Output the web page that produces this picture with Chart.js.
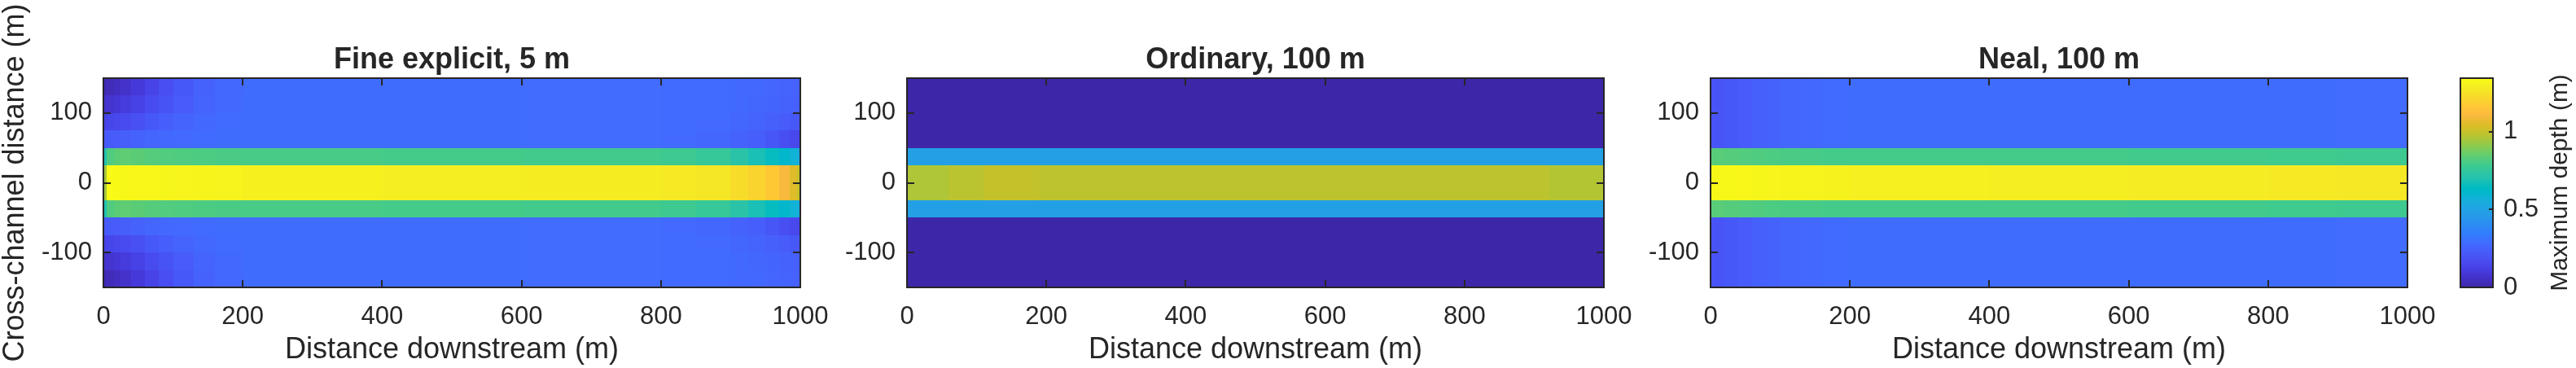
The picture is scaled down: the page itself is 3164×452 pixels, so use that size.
<!DOCTYPE html>
<html>
<head>
<meta charset="utf-8">
<script src="https://cdn.jsdelivr.net/npm/chart.js@4.4.1/dist/chart.umd.min.js"></script>
<style>
  html, body { margin: 0; padding: 0; background: #ffffff; }
  #wrap { position: relative; width: 3164px; height: 452px; overflow: hidden; }
  #wrap canvas { position: absolute; left: 0; top: 0; }
</style>
</head>
<body>
<div id="wrap">
  <canvas id="fine" width="3164" height="452"></canvas>
  <canvas id="ordinary" width="3164" height="452"></canvas>
  <canvas id="neal" width="3164" height="452"></canvas>
  <canvas id="cbar" width="3164" height="452"></canvas>
</div>
<script>
// ---- data ----
const xTicks = [0, 200, 400, 600, 800, 1000];
const yTicks = [-100, 0, 100];
const depthTicks = [0, 0.5, 1];
const depthMax = 1.345;

// cross-channel band edges, bottom to top (m)
const yEdges = [-150, -125, -100, -75, -50, -25, 25, 50, 75, 100, 125, 150];

// Fine explicit, 5 m
const fineX = [0, 5, 15, 25, 40, 60, 80, 100, 130, 160, 200, 400, 600, 800, 850, 900, 925, 950, 970, 985, 995, 1000];
const fineFlood125 = [0.02, 0.03, 0.045, 0.065, 0.095, 0.135, 0.175, 0.215, 0.25, 0.272, 0.288, 0.288, 0.287, 0.285, 0.282, 0.278, 0.272, 0.265, 0.258, 0.25, 0.248];
const fineFlood100 = [0.07, 0.075, 0.087, 0.105, 0.13, 0.165, 0.195, 0.23, 0.258, 0.277, 0.288, 0.288, 0.287, 0.285, 0.282, 0.278, 0.27, 0.262, 0.252, 0.243, 0.24];
const fineFlood75 = [0.14, 0.145, 0.152, 0.165, 0.185, 0.212, 0.235, 0.258, 0.272, 0.282, 0.288, 0.288, 0.287, 0.285, 0.28, 0.27, 0.26, 0.245, 0.23, 0.215, 0.21];
const fineFlood50 = [0.22, 0.225, 0.23, 0.24, 0.25, 0.265, 0.275, 0.28, 0.285, 0.288, 0.288, 0.288, 0.287, 0.28, 0.27, 0.255, 0.235, 0.21, 0.18, 0.155, 0.15];
const fineBank = [0.70, 0.82, 0.84, 0.845, 0.84, 0.83, 0.825, 0.82, 0.815, 0.81, 0.805, 0.80, 0.795, 0.785, 0.765, 0.725, 0.685, 0.65, 0.615, 0.58, 0.55];
const fineChannel = [0.95, 1.34, 1.338, 1.335, 1.332, 1.33, 1.327, 1.325, 1.32, 1.316, 1.31, 1.30, 1.295, 1.285, 1.27, 1.24, 1.21, 1.17, 1.11, 1.05, 1.01];

// Ordinary, 100 m
const ordX = [0, 60, 110, 190, 920, 1000];
const ordFlood = [0, 0, 0, 0, 0];
const ordBank = [0.49, 0.49, 0.49, 0.49, 0.49];
const ordChannel = [0.965, 0.985, 1.0, 0.99, 0.975];

// Neal, 100 m
const nealX = [0, 20, 40, 60, 80, 100, 130, 160, 200, 400, 600, 800, 900, 1000];
const nealFlood = [0.20, 0.215, 0.23, 0.245, 0.255, 0.265, 0.275, 0.283, 0.288, 0.288, 0.288, 0.288, 0.287];
const nealBank = [0.835, 0.83, 0.825, 0.82, 0.815, 0.81, 0.805, 0.80, 0.80, 0.80, 0.795, 0.79, 0.785];
const nealChannel = [1.335, 1.333, 1.33, 1.327, 1.324, 1.32, 1.316, 1.312, 1.305, 1.298, 1.29, 1.283, 1.277];

// ---- style ----
const ink = '#262626';
Chart.defaults.font.family = '"Liberation Sans", Arial, Helvetica, sans-serif';
Chart.defaults.color = ink;

// MATLAB parula colormap
const parula = [
  [0.2422,0.1504,0.6603],[0.2504,0.1650,0.7076],[0.2578,0.1818,0.7511],[0.2647,0.1978,0.7952],
  [0.2706,0.2147,0.8364],[0.2751,0.2342,0.8710],[0.2783,0.2559,0.8991],[0.2803,0.2782,0.9221],
  [0.2813,0.3006,0.9414],[0.2810,0.3228,0.9579],[0.2795,0.3447,0.9717],[0.2760,0.3667,0.9829],
  [0.2699,0.3892,0.9906],[0.2602,0.4123,0.9952],[0.2440,0.4358,0.9988],[0.2206,0.4603,0.9973],
  [0.1963,0.4847,0.9892],[0.1834,0.5074,0.9798],[0.1786,0.5289,0.9682],[0.1764,0.5499,0.9520],
  [0.1687,0.5703,0.9359],[0.1540,0.5902,0.9218],[0.1460,0.6091,0.9079],[0.1380,0.6276,0.8973],
  [0.1248,0.6459,0.8883],[0.1113,0.6635,0.8763],[0.0952,0.6798,0.8598],[0.0689,0.6948,0.8394],
  [0.0297,0.7082,0.8163],[0.0036,0.7203,0.7917],[0.0067,0.7312,0.7660],[0.0433,0.7411,0.7394],
  [0.0964,0.7500,0.7120],[0.1408,0.7584,0.6842],[0.1717,0.7670,0.6554],[0.1938,0.7758,0.6251],
  [0.2161,0.7843,0.5923],[0.2470,0.7918,0.5567],[0.2906,0.7973,0.5188],[0.3406,0.8008,0.4789],
  [0.3909,0.8029,0.4354],[0.4456,0.8024,0.3909],[0.5044,0.7993,0.3480],[0.5616,0.7942,0.3045],
  [0.6174,0.7876,0.2612],[0.6720,0.7793,0.2227],[0.7242,0.7698,0.1910],[0.7738,0.7598,0.1646],
  [0.8203,0.7498,0.1535],[0.8634,0.7406,0.1596],[0.9035,0.7330,0.1774],[0.9393,0.7288,0.2100],
  [0.9728,0.7298,0.2394],[0.9956,0.7434,0.2371],[0.9970,0.7659,0.2199],[0.9952,0.7893,0.2028],
  [0.9892,0.8136,0.1885],[0.9786,0.8386,0.1766],[0.9676,0.8639,0.1643],[0.9610,0.8890,0.1537],
  [0.9597,0.9135,0.1423],[0.9628,0.9373,0.1265],[0.9691,0.9606,0.1064],[0.9769,0.9839,0.0805]
];

function depthColor(v) {
  let t = Math.min(Math.max(v / depthMax, 0), 1) * 63;
  const i = Math.min(Math.floor(t), 62);
  const f = t - i;
  const a = parula[i], b = parula[i + 1];
  const c = a.map((p, k) => Math.round(255 * (p + (b[k] - p) * f)));
  return 'rgb(' + c.join(',') + ')';
}

// plain tick text, no thousands separator
const plainTick = v => String(v);

// draws the depth cells through the chart's scales
function heatmap(xs, rows) {
  return {
    id: 'heatmap',
    beforeDatasetsDraw(chart) {
      const { ctx, scales: { x, y } } = chart;
      ctx.save();
      rows.forEach((vals, r) => {
        const y0 = Math.round(y.getPixelForValue(yEdges[r]));
        const y1 = Math.round(y.getPixelForValue(yEdges[r + 1]));
        vals.forEach((v, c) => {
          const x0 = Math.round(x.getPixelForValue(xs[c]));
          const x1 = Math.round(x.getPixelForValue(xs[c + 1]));
          ctx.fillStyle = depthColor(v);
          ctx.fillRect(x0, y1, x1 - x0, y0 - y1);
        });
      });
      ctx.restore();
    }
  };
}

// box with inward ticks on all four sides
const frame = {
  id: 'frame',
  afterDraw(chart) {
    const { ctx, chartArea: a, scales: { x, y } } = chart;
    const len = 9;
    ctx.save();
    ctx.strokeStyle = ink;
    ctx.lineWidth = 2;
    ctx.beginPath();
    xTicks.forEach(v => {
      const px = Math.round(x.getPixelForValue(v));
      ctx.moveTo(px, a.bottom); ctx.lineTo(px, a.bottom - len);
      ctx.moveTo(px, a.top); ctx.lineTo(px, a.top + len);
    });
    yTicks.forEach(v => {
      const py = Math.round(y.getPixelForValue(v));
      ctx.moveTo(a.left, py); ctx.lineTo(a.left + len, py);
      ctx.moveTo(a.right, py); ctx.lineTo(a.right - len, py);
    });
    ctx.stroke();
    ctx.strokeRect(a.left, a.top, a.right - a.left, a.bottom - a.top);
    ctx.restore();
  }
};

const plotWidth = 856;
const yAxisWidth = 127;

function makePanel(id, title, left, rows, xs, withYTitle) {
  return new Chart(document.getElementById(id), {
    type: 'scatter',
    data: { datasets: [] },
    options: {
      responsive: false,
      animation: false,
      devicePixelRatio: 1,
      layout: { padding: { left: left - yAxisWidth, right: 3164 - left - plotWidth, top: 0, bottom: 0 } },
      plugins: {
        legend: { display: false },
        tooltip: { enabled: false },
        title: {
          display: true,
          text: title,
          fullSize: false,
          color: ink,
          font: { size: 36, weight: 'bold', lineHeight: 1.2 },
          padding: { top: 52, bottom: 0.8 }
        }
      },
      scales: {
        x: {
          type: 'linear',
          min: 0,
          max: 1000,
          afterBuildTicks: s => { s.ticks = xTicks.map(v => ({ value: v })); },
          afterFit: s => { s.height = 99; },
          grid: { display: false, drawTicks: false },
          border: { display: false },
          ticks: { font: { size: 31 }, color: ink, padding: 18, maxRotation: 0, autoSkip: false, callback: plainTick },
          title: { display: true, text: 'Distance downstream (m)', color: ink, font: { size: 36, lineHeight: 1.2 }, padding: 0 }
        },
        y: {
          type: 'linear',
          min: -150,
          max: 150,
          afterBuildTicks: s => { s.ticks = yTicks.map(v => ({ value: v })); },
          afterFit: s => { s.width = yAxisWidth; },
          grid: { display: false, drawTicks: false },
          border: { display: false },
          ticks: { font: { size: 31 }, color: ink, padding: 14, autoSkip: false, callback: plainTick },
          title: {
            display: withYTitle,
            text: 'Cross-channel distance (m)',
            color: ink,
            font: { size: 36, lineHeight: 1 },
            padding: { top: 1, bottom: 0 }
          }
        }
      }
    },
    plugins: [heatmap(xs, rows), frame]
  });
}

makePanel('fine', 'Fine explicit, 5 m', 127,
  [fineFlood125, fineFlood100, fineFlood75, fineFlood50, fineBank, fineChannel,
   fineBank, fineFlood50, fineFlood75, fineFlood100, fineFlood125], fineX, true);

makePanel('ordinary', 'Ordinary, 100 m', 1114,
  [ordFlood, ordFlood, ordFlood, ordFlood, ordBank, ordChannel,
   ordBank, ordFlood, ordFlood, ordFlood, ordFlood], ordX, false);

makePanel('neal', 'Neal, 100 m', 2101,
  [nealFlood, nealFlood, nealFlood, nealFlood, nealBank, nealChannel,
   nealBank, nealFlood, nealFlood, nealFlood, nealFlood], nealX, false);

// ---- colorbar ----
const colorbarFill = {
  id: 'colorbarFill',
  beforeDatasetsDraw(chart) {
    const { ctx, chartArea: a, scales: { y } } = chart;
    const steps = 256;
    ctx.save();
    for (let k = 0; k < steps; k++) {
      const v0 = depthMax * k / steps, v1 = depthMax * (k + 1) / steps;
      const p0 = y.getPixelForValue(v0), p1 = y.getPixelForValue(v1);
      ctx.fillStyle = depthColor((v0 + v1) / 2);
      ctx.fillRect(a.left, Math.floor(p1), a.right - a.left, Math.ceil(p0) - Math.floor(p1));
    }
    ctx.restore();
  },
  afterDraw(chart) {
    const { ctx, chartArea: a, scales: { y } } = chart;
    ctx.save();
    ctx.strokeStyle = ink;
    ctx.lineWidth = 2;
    ctx.beginPath();
    depthTicks.forEach(v => {
      const py = Math.round(y.getPixelForValue(v));
      ctx.moveTo(a.right, py); ctx.lineTo(a.right - 5, py);
    });
    ctx.stroke();
    ctx.strokeRect(a.left, a.top, a.right - a.left, a.bottom - a.top);
    // label reads bottom to top, as in the figure
    ctx.translate(3144.5, (a.top + a.bottom) / 2);
    ctx.rotate(-Math.PI / 2);
    ctx.fillStyle = ink;
    ctx.font = '30px "Liberation Sans", Arial, Helvetica, sans-serif';
    ctx.textAlign = 'center';
    ctx.textBaseline = 'middle';
    ctx.fillText('Maximum depth (m)', 0, 0);
    ctx.restore();
  }
};

new Chart(document.getElementById('cbar'), {
  type: 'scatter',
  data: { datasets: [] },
  options: {
    responsive: false,
    animation: false,
    devicePixelRatio: 1,
    layout: { padding: { left: 3022, right: 0, top: 96, bottom: 99 } },
    plugins: { legend: { display: false }, tooltip: { enabled: false } },
    scales: {
      x: { type: 'linear', display: false, min: 0, max: 1 },
      y: {
        type: 'linear',
        position: 'right',
        min: 0,
        max: depthMax,
        afterBuildTicks: s => { s.ticks = depthTicks.map(v => ({ value: v })); },
        afterFit: s => { s.width = 102; },
        grid: { display: false, drawTicks: false },
        border: { display: false },
        ticks: { font: { size: 31 }, color: ink, padding: 13, autoSkip: false, callback: plainTick }
      }
    }
  },
  plugins: [colorbarFill]
});
</script>
</body>
</html>
